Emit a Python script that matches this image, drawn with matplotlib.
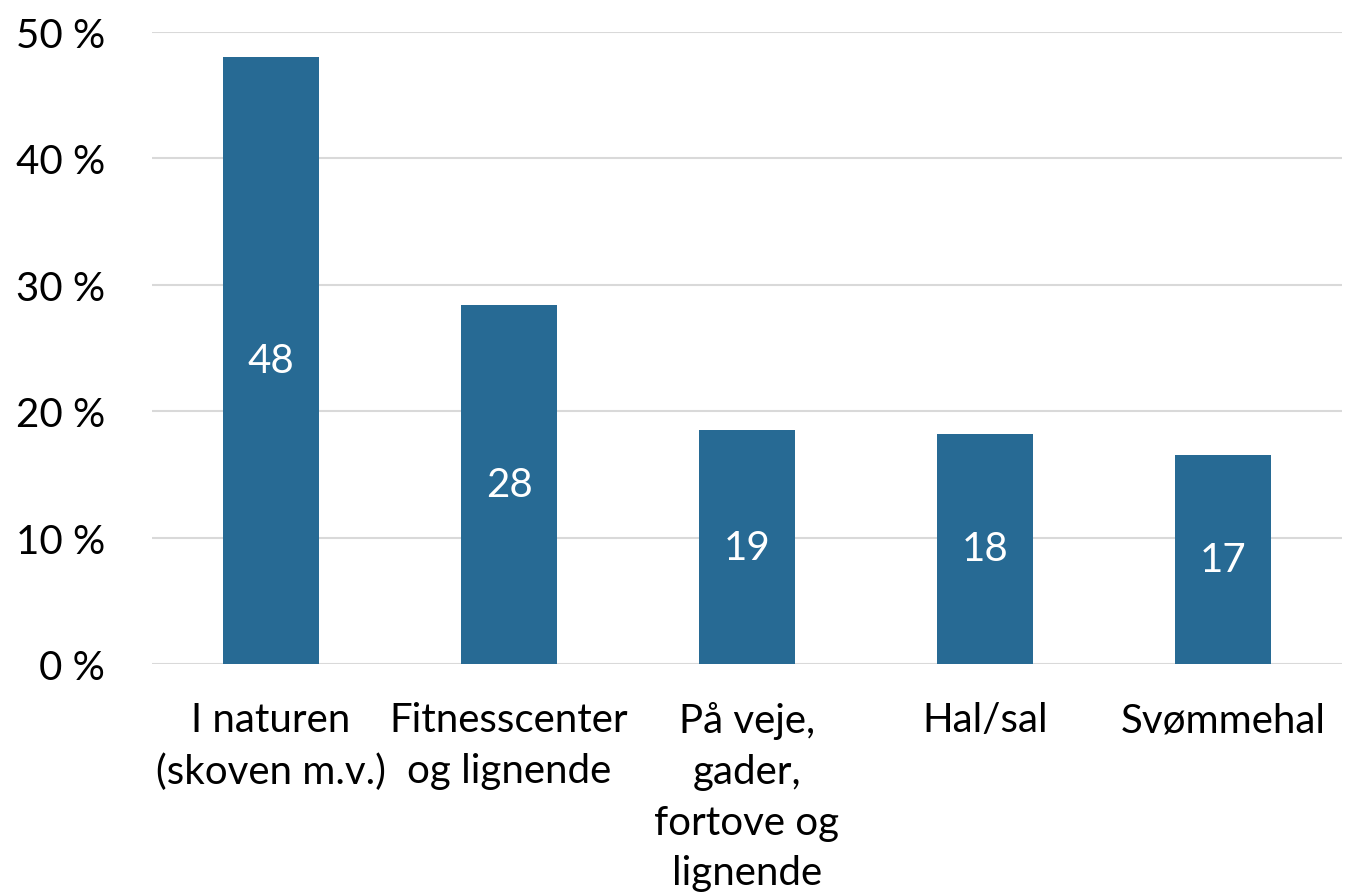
import matplotlib
matplotlib.use("Agg")
import matplotlib.pyplot as plt

categories = ["I naturen\n(skoven m.v.)", "Fitnesscenter\nog lignende", "På veje,\ngader,\nfortove og\nlignende", "Hal/sal", "Svømmehal"]
values = [48.0, 28.4, 18.5, 18.2, 16.5]
labels = ["48", "28", "19", "18", "17"]
yticks = [0, 10, 20, 30, 40, 50]
ytick_labels = ["0 %", "10 %", "20 %", "30 %", "40 %", "50 %"]

plt.rcParams['font.family'] = ['Lato', 'DejaVu Sans']

fig = plt.figure(figsize=(13.56, 8.95), dpi=100)
ax = fig.add_axes([152/1356, 1-665/895, (1342-152)/1356, (665-33)/895])

x = list(range(len(categories)))
bars = ax.bar(x, values, width=0.4, color="#276A94", zorder=3)
for xi, v, lab in zip(x, values, labels):
    ax.text(xi, v/2, lab, ha="center", va="center", color="white", fontsize=29, zorder=4)

ax.set_xlim(-0.5, len(categories)-0.5)
ax.set_ylim(0, 50)
ax.set_yticks(yticks)
ax.set_yticklabels(ytick_labels, fontsize=29)
ax.set_xticks(x)
ax.set_xticklabels(categories, fontsize=29, linespacing=1.45, va="top")
ax.tick_params(axis="both", length=0)
ax.tick_params(axis="y", pad=34)
ax.tick_params(axis="x", pad=27)
ax.grid(axis="y", color="#D9D9D9", linewidth=1.5, zorder=0)
for s in ax.spines.values():
    s.set_visible(False)

fig.savefig("out.png", dpi=100)
